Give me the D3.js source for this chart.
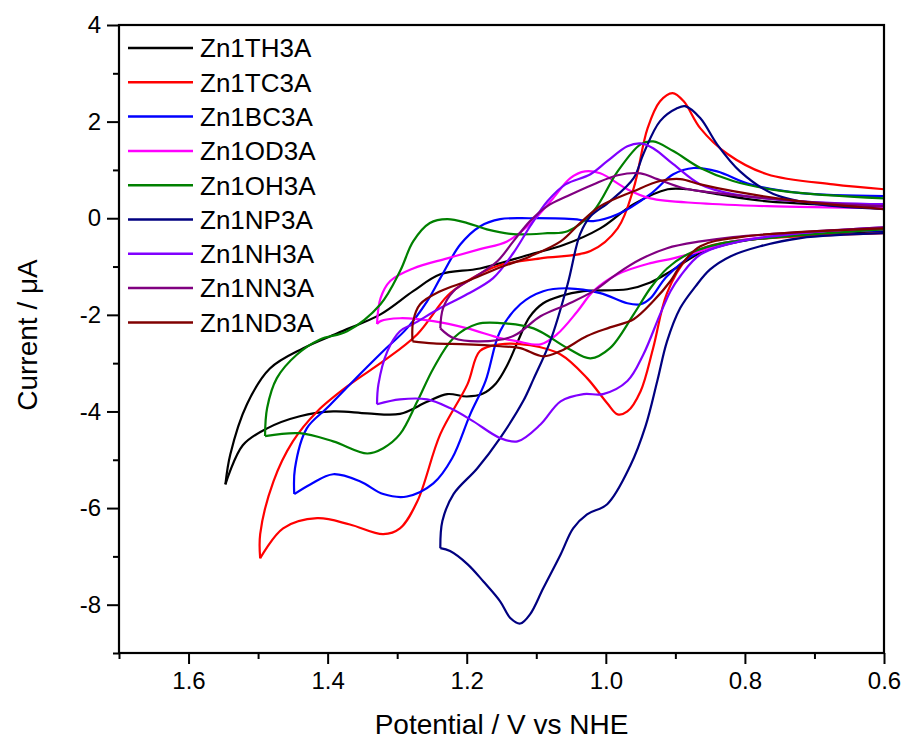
<!DOCTYPE html>
<html>
<head>
<meta charset="utf-8">
<script src="https://cdn.jsdelivr.net/npm/d3@7"></script>
<style>
  body { margin: 0; background: #fff; }
  svg { display: block; font-family: Arial, "Liberation Sans", sans-serif; }
</style>
</head>
<body>
<svg id="chart" width="905" height="745"></svg>
<script>
// Cyclic voltammograms: [potential V, current uA]
// each sample has a forward sweep (0.6 V -> vertex) and a return sweep (vertex -> 0.6 V)
const names = ['Zn1TH3A', 'Zn1TC3A', 'Zn1BC3A', 'Zn1OD3A', 'Zn1OH3A', 'Zn1NP3A', 'Zn1NH3A', 'Zn1NN3A', 'Zn1ND3A'];
const colors = ['#000000', '#ff0000', '#0000ff', '#ff00ff', '#008000', '#000080', '#8000ff', '#800080', '#800000'];

const th3aFwd = [[0.600,-0.27],[0.720,-0.35],[0.807,-0.48],[0.864,-0.72],[0.907,-1.10],[0.936,-1.33],[0.969,-1.47],[1.032,-1.51],[1.065,-1.61],[1.090,-1.76],[1.110,-2.05],[1.125,-2.50],[1.142,-3.05],[1.158,-3.42],[1.178,-3.64],[1.200,-3.69],[1.228,-3.64],[1.257,-3.80],[1.296,-4.05],[1.343,-4.04],[1.392,-4.00],[1.440,-4.10],[1.487,-4.35],[1.522,-4.70],[1.547,-5.51]];
const th3aRev = [[1.547,-5.51],[1.540,-4.89],[1.516,-3.85],[1.483,-3.11],[1.435,-2.69],[1.386,-2.38],[1.324,-1.99],[1.277,-1.51],[1.238,-1.16],[1.181,-1.04],[1.109,-0.75],[1.060,-0.55],[1.008,-0.21],[0.960,0.29],[0.911,0.60],[0.883,0.60],[0.840,0.50],[0.768,0.35],[0.600,0.25]];

const tc3aFwd = [[0.600,-0.31],[0.817,-0.48],[0.864,-0.64],[0.883,-0.83],[0.912,-1.55],[0.932,-2.69],[0.950,-3.58],[0.969,-4.00],[0.983,-4.06],[0.998,-3.83],[1.027,-3.31],[1.065,-2.82],[1.109,-2.63],[1.152,-2.61],[1.181,-2.75],[1.199,-3.44],[1.238,-4.47],[1.271,-5.86],[1.296,-6.42],[1.320,-6.54],[1.368,-6.34],[1.415,-6.21],[1.464,-6.42],[1.497,-7.04]];
const tc3aRev = [[1.497,-7.04],[1.497,-6.54],[1.478,-5.45],[1.450,-4.62],[1.415,-4.00],[1.368,-3.44],[1.320,-2.96],[1.271,-2.40],[1.228,-1.61],[1.199,-1.30],[1.156,-0.99],[1.094,-0.83],[1.022,-0.68],[0.983,-0.21],[0.960,0.62],[0.940,1.86],[0.922,2.42],[0.904,2.59],[0.888,2.42],[0.864,1.86],[0.825,1.33],[0.768,0.91],[0.673,0.70],[0.600,0.60]];

const bc3aFwd = [[0.600,-0.25],[0.768,-0.39],[0.864,-0.68],[0.912,-1.20],[0.936,-1.66],[0.950,-1.78],[0.969,-1.76],[1.008,-1.55],[1.055,-1.45],[1.090,-1.51],[1.123,-1.78],[1.152,-2.34],[1.173,-3.37],[1.195,-4.06],[1.221,-4.97],[1.248,-5.49],[1.286,-5.76],[1.320,-5.71],[1.353,-5.45],[1.392,-5.30],[1.425,-5.51],[1.448,-5.71]];
const bc3aRev = [[1.448,-5.71],[1.447,-5.18],[1.430,-4.35],[1.401,-3.93],[1.368,-3.44],[1.320,-2.75],[1.286,-2.28],[1.257,-1.72],[1.238,-1.24],[1.209,-0.54],[1.181,-0.17],[1.152,-0.02],[1.109,0.00],[1.047,-0.02],[1.018,-0.06],[0.983,0.08],[0.936,0.50],[0.903,0.91],[0.874,1.04],[0.840,0.97],[0.792,0.70],[0.720,0.52],[0.600,0.46]];

const od3aFwd = [[0.600,-0.23],[0.817,-0.48],[0.864,-0.68],[0.903,-0.83],[0.936,-0.93],[0.983,-1.16],[1.018,-1.51],[1.041,-1.93],[1.070,-2.40],[1.094,-2.61],[1.127,-2.55],[1.152,-2.48],[1.199,-2.28],[1.248,-2.13],[1.296,-2.07],[1.324,-2.13],[1.329,-2.19]];
const od3aRev = [[1.329,-2.19],[1.324,-1.66],[1.310,-1.30],[1.277,-1.04],[1.228,-0.83],[1.181,-0.64],[1.142,-0.48],[1.109,-0.12],[1.076,0.41],[1.051,0.83],[1.030,0.97],[1.008,0.93],[0.969,0.60],[0.936,0.41],[0.864,0.31],[0.768,0.25],[0.600,0.21]];

const oh3aFwd = [[0.600,-0.23],[0.768,-0.41],[0.840,-0.54],[0.883,-0.75],[0.912,-1.04],[0.936,-1.45],[0.960,-1.99],[0.994,-2.69],[1.022,-2.90],[1.055,-2.69],[1.104,-2.28],[1.152,-2.17],[1.185,-2.19],[1.219,-2.48],[1.248,-3.11],[1.271,-3.79],[1.296,-4.47],[1.320,-4.76],[1.343,-4.87],[1.392,-4.62],[1.440,-4.45],[1.490,-4.51]];
const oh3aRev = [[1.490,-4.51],[1.487,-3.93],[1.473,-3.31],[1.444,-2.82],[1.411,-2.51],[1.372,-2.34],[1.324,-1.78],[1.296,-1.10],[1.277,-0.48],[1.253,-0.10],[1.228,-0.02],[1.199,-0.10],[1.171,-0.23],[1.133,-0.33],[1.084,-0.31],[1.055,-0.27],[1.018,0.14],[0.983,0.97],[0.950,1.53],[0.932,1.59],[0.903,1.39],[0.864,1.04],[0.817,0.77],[0.745,0.56],[0.600,0.41]];

const np3aFwd = [[0.600,-0.31],[0.720,-0.41],[0.778,-0.58],[0.821,-0.79],[0.850,-1.06],[0.871,-1.41],[0.893,-1.86],[0.912,-2.55],[0.926,-3.37],[0.943,-4.31],[0.965,-5.13],[0.998,-5.92],[1.027,-6.13],[1.047,-6.42],[1.065,-6.96],[1.090,-7.66],[1.109,-8.20],[1.123,-8.39],[1.137,-8.28],[1.152,-7.93],[1.176,-7.52],[1.199,-7.16],[1.224,-6.89],[1.238,-6.83]];
const np3aRev = [[1.238,-6.83],[1.235,-6.27],[1.219,-5.71],[1.185,-5.18],[1.152,-4.55],[1.119,-3.79],[1.104,-3.33],[1.080,-2.55],[1.055,-1.37],[1.037,-0.33],[1.022,0.04],[0.994,0.35],[0.960,0.83],[0.946,1.33],[0.922,2.01],[0.897,2.28],[0.886,2.32],[0.864,2.07],[0.840,1.53],[0.807,0.97],[0.759,0.50],[0.696,0.29],[0.600,0.19]];

const nh3aFwd = [[0.600,-0.19],[0.720,-0.31],[0.807,-0.48],[0.864,-0.75],[0.893,-1.20],[0.907,-1.51],[0.922,-1.99],[0.946,-2.82],[0.969,-3.37],[1.004,-3.64],[1.032,-3.64],[1.065,-3.79],[1.094,-4.27],[1.127,-4.62],[1.152,-4.55],[1.191,-4.20],[1.224,-3.93],[1.257,-3.75],[1.296,-3.75],[1.329,-3.85]];
const nh3aRev = [[1.329,-3.85],[1.327,-3.44],[1.314,-2.75],[1.296,-2.34],[1.277,-2.19],[1.238,-1.86],[1.199,-1.57],[1.162,-1.24],[1.133,-0.72],[1.109,-0.17],[1.084,0.35],[1.058,0.70],[1.022,0.91],[0.998,1.18],[0.969,1.49],[0.950,1.55],[0.932,1.45],[0.903,1.12],[0.864,0.70],[0.817,0.50],[0.720,0.35],[0.600,0.29]];

const nn3aFwd = [[0.600,-0.19],[0.817,-0.39],[0.864,-0.48],[0.912,-0.62],[0.950,-0.85],[0.983,-1.14],[1.018,-1.51],[1.055,-1.78],[1.094,-2.03],[1.133,-2.44],[1.181,-2.55],[1.219,-2.48],[1.238,-2.28]];
const nn3aRev = [[1.238,-2.28],[1.234,-1.86],[1.219,-1.51],[1.191,-1.24],[1.156,-0.89],[1.133,-0.48],[1.109,-0.06],[1.084,0.25],[1.055,0.46],[1.018,0.70],[0.983,0.89],[0.950,0.93],[0.926,0.81],[0.888,0.62],[0.840,0.52],[0.720,0.35],[0.600,0.25]];

const nd3aFwd = [[0.600,-0.21],[0.807,-0.39],[0.864,-0.58],[0.893,-0.99],[0.907,-1.30],[0.932,-1.72],[0.960,-2.09],[0.994,-2.26],[1.027,-2.44],[1.065,-2.75],[1.090,-2.86],[1.123,-2.69],[1.152,-2.65],[1.199,-2.61],[1.248,-2.59],[1.278,-2.55]];
const nd3aRev = [[1.278,-2.55],[1.277,-2.13],[1.267,-1.78],[1.238,-1.51],[1.199,-1.30],[1.156,-1.04],[1.109,-0.79],[1.065,-0.48],[1.037,-0.10],[1.008,0.25],[0.960,0.56],[0.922,0.77],[0.893,0.81],[0.864,0.70],[0.817,0.56],[0.720,0.35],[0.600,0.19]];

const sweeps = [
  [th3aFwd, th3aRev], [tc3aFwd, tc3aRev], [bc3aFwd, bc3aRev],
  [od3aFwd, od3aRev], [oh3aFwd, oh3aRev], [np3aFwd, np3aRev],
  [nh3aFwd, nh3aRev], [nn3aFwd, nn3aRev], [nd3aFwd, nd3aRev]
];

const xMajor = [1.6, 1.4, 1.2, 1.0, 0.8, 0.6];
const xMinor = [1.7, 1.5, 1.3, 1.1, 0.9, 0.7];
const yMajor = [-8, -6, -4, -2, 0, 2, 4];
const yMinor = [-9, -7, -5, -3, -1, 1, 3];

const margin = { top: 25, right: 21, bottom: 92, left: 119 };
const width = 905 - margin.left - margin.right;
const height = 745 - margin.top - margin.bottom;

const svg = d3.select('#chart');
const g = svg.append('g').attr('transform', `translate(${margin.left},${margin.top})`);

const x = d3.scaleLinear().domain([1.7, 0.6]).range([0, width]);
const y = d3.scaleLinear().domain([-9, 4]).range([height, 0]);

// Curves
const line = d3.line()
  .x(d => x(d[0]))
  .y(d => y(d[1]))
  .curve(d3.curveCatmullRom.alpha(0.5));

sweeps.forEach((pair, i) => {
  pair.forEach(seg => {
    g.append('path')
      .datum(seg)
      .attr('d', line)
      .attr('fill', 'none')
      .attr('stroke', colors[i])
      .attr('stroke-width', 2.2)
      .attr('stroke-linejoin', 'round');
  });
});

// Axes
const tickFont = 24;

g.append('g').attr('transform', `translate(0,${height})`)
  .call(d3.axisBottom(x).tickValues(xMajor).tickSize(11).tickPadding(8).tickFormat(d => d.toFixed(1)));
g.append('g').attr('transform', `translate(0,${height})`)
  .call(d3.axisBottom(x).tickValues(xMinor).tickSize(6).tickFormat(''));

g.append('g')
  .call(d3.axisLeft(y).tickValues(yMajor).tickSize(12).tickPadding(6).tickFormat(d => String(d)));
g.append('g')
  .call(d3.axisLeft(y).tickValues(yMinor).tickSize(6).tickFormat(''));

g.selectAll('.domain').remove();
g.selectAll('.tick line').attr('stroke', '#000').attr('stroke-width', 2);
g.selectAll('.tick text').attr('fill', '#000').style('font-size', tickFont + 'px')
  .style('font-family', 'Arial, "Liberation Sans", sans-serif');

// Frame
g.append('rect')
  .attr('width', width)
  .attr('height', height)
  .attr('fill', 'none')
  .attr('stroke', '#000')
  .attr('stroke-width', 2.2);

// Axis titles
svg.append('text')
  .attr('x', margin.left + width / 2)
  .attr('y', 734)
  .attr('text-anchor', 'middle')
  .style('font-size', '28px')
  .text('Potential / V vs NHE');

svg.append('text')
  .attr('transform', `translate(37,${margin.top + height / 2 - 4}) rotate(-90)`)
  .attr('text-anchor', 'middle')
  .style('font-size', '28px')
  .text('Current / μA');

// Legend
const legend = g.append('g').attr('transform', 'translate(9,23)');
names.forEach((name, i) => {
  const row = legend.append('g').attr('transform', `translate(0,${i * 34.3})`);
  row.append('line')
    .attr('x1', 0).attr('x2', 65)
    .attr('stroke', colors[i])
    .attr('stroke-width', 2.5);
  row.append('text')
    .attr('x', 72)
    .attr('dy', '0.36em')
    .style('font-size', '26px')
    .text(name);
});
</script>
</body>
</html>
